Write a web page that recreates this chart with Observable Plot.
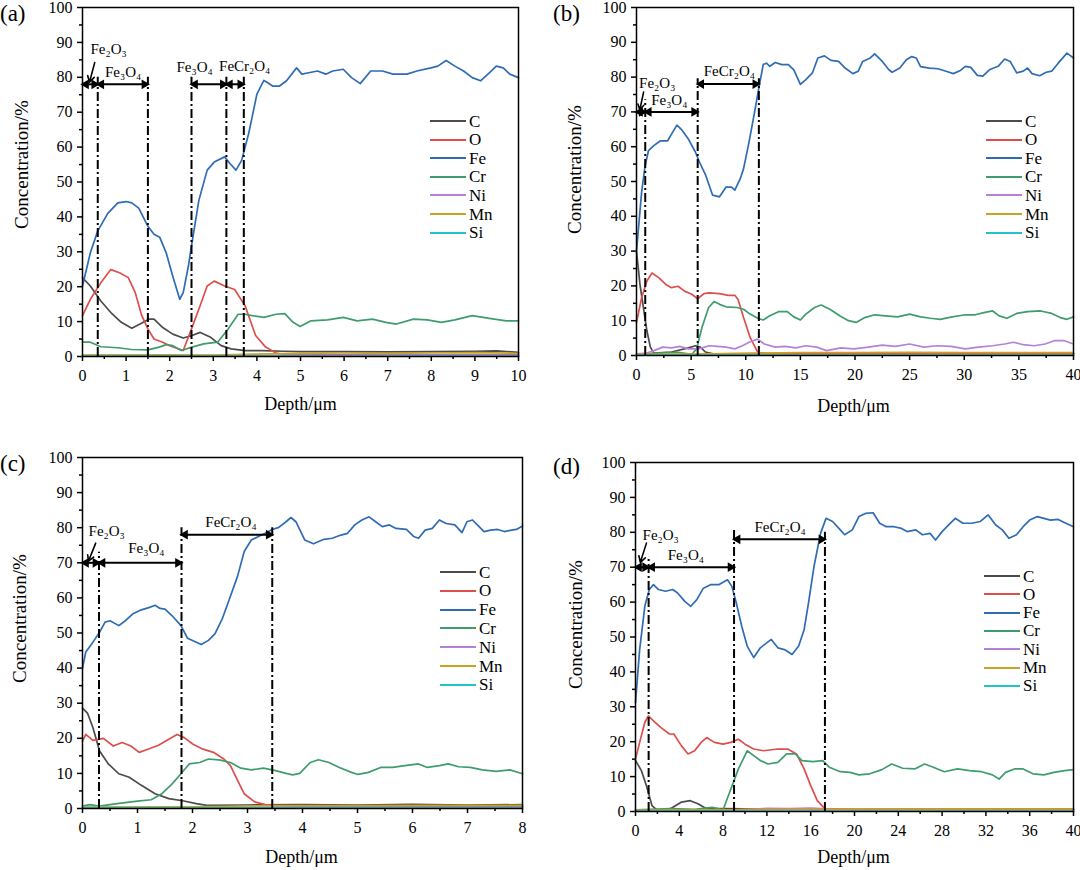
<!DOCTYPE html>
<html><head><meta charset="utf-8">
<script src="https://cdn.jsdelivr.net/npm/d3@7"></script>
<script src="https://cdn.jsdelivr.net/npm/@observablehq/plot@0.6"></script>
<style>
body{margin:0;background:#fff;font-family:"Liberation Serif","Times New Roman",serif;color:#000}
#page{position:relative;width:1080px;height:870px;overflow:hidden}
.panel{position:absolute;width:540px;height:435px}
.ov{position:absolute;white-space:nowrap;line-height:1}
.leg{position:absolute;font-size:17px;line-height:1}
.leg div{position:absolute;display:flex;align-items:center;height:18px}
.leg svg{display:block;margin-right:3px}
</style></head>
<body><div id="page"></div>
<script>
// ---------- shared ----------
const elements = ["C","O","Fe","Cr","Ni","Mn","Si"];
const colors = ["#4b4b4b","#dc4f4c","#2f6cb4","#3f9c6d","#b680d6","#c9a127","#22c3c9"];
const yTicks = [0,10,20,30,40,50,60,70,80,90,100];
const yMinor = [5,15,25,35,45,55,65,75,85,95];

// ---------- panel (a) ----------
const aXTicks = [0,1,2,3,4,5,6,7,8,9,10];
const aXMinor = [0.5,1.5,2.5,3.5,4.5,5.5,6.5,7.5,8.5,9.5];
const aC = [[0,22.6],[0.18,20.2],[0.42,15.9],[0.65,12.6],[0.89,9.8],[1.13,8.1],[1.32,9.3],[1.52,10.7],[1.64,10.7],[1.84,8.3],[2.07,6.4],[2.31,5.3],[2.51,6.0],[2.7,6.9],[2.94,5.5],[3.18,3.1],[3.41,2.2],[3.73,1.7],[4.12,1.7],[4.6,1.5],[5,1.4],[6,1.4],[7,1.3],[8,1.4],[9,1.5],[9.5,1.6],[10,1.2]];
const aO = [[0,11.7],[0.18,16.4],[0.42,21.1],[0.65,24.9],[0.85,24.0],[1.05,22.6],[1.21,18.3],[1.36,11.7],[1.5,7.9],[1.64,5.0],[1.84,4.1],[2.0,3.1],[2.19,2.2],[2.31,1.7],[2.47,6.9],[2.67,13.6],[2.86,20.2],[3.02,21.6],[3.26,20.2],[3.49,19.2],[3.73,14.5],[3.97,6.0],[4.2,2.7],[4.44,1.0],[4.68,0.5],[6,0.5],[8,0.5],[10,0.5]];
const aFe = [[0,20.2],[0.18,29.7],[0.35,36],[0.58,41],[0.81,44],[1.0,44.4],[1.13,44],[1.29,42.5],[1.5,37.3],[1.64,35],[1.77,34.2],[1.92,29.7],[2.07,23],[2.23,16.4],[2.31,18.3],[2.43,26],[2.51,32.5],[2.67,44.8],[2.86,53.4],[3.02,55.7],[3.26,57.2],[3.38,55.3],[3.52,53.4],[3.65,56.2],[3.81,63.8],[4.0,75.2],[4.16,79.1],[4.24,78.5],[4.36,77.5],[4.52,77.5],[4.68,79],[4.91,82.7],[5.03,80.9],[5.19,81.3],[5.39,81.8],[5.58,80.9],[5.74,81.8],[5.98,82.3],[6.17,79.9],[6.37,78.2],[6.61,81.8],[6.88,81.8],[7.12,80.9],[7.44,80.9],[7.67,81.8],[7.99,82.7],[8.15,83.2],[8.34,84.8],[8.54,83.2],[8.74,81.8],[8.94,79.9],[9.13,79],[9.33,81.3],[9.49,83.2],[9.65,82.7],[9.8,80.9],[10,79.9]];
const aCr = [[0,4.1],[0.18,4.1],[0.42,2.8],[0.81,2.5],[1.13,2.0],[1.5,1.9],[1.76,2.7],[1.92,3.4],[2.07,3.1],[2.27,1.7],[2.51,2.7],[2.78,3.6],[3.1,4.1],[3.34,7.9],[3.57,12.1],[3.73,12.1],[3.89,11.7],[4.16,11.2],[4.44,12.1],[4.64,12.3],[4.83,9.8],[4.99,8.6],[5.23,10.2],[5.62,10.5],[5.98,11.2],[6.3,10.2],[6.65,10.7],[6.96,9.8],[7.2,9.3],[7.59,10.7],[7.91,10.5],[8.23,9.8],[8.54,10.5],[8.94,11.7],[9.33,10.9],[9.72,10.2],[10,10.2]];
const aNi = [[0,0.3],[2,0.2],[4,0.3],[6,0.3],[8,0.4],[10,0.3]];
const aMn = [[0,0.4],[2,0.5],[3,0.4],[4,0.7],[5,0.9],[6,1.0],[7,0.9],[8,1.0],[9,1.1],[10,0.9]];
const aSi = [[0,0.1],[3,0.1],[6,0.1],[10,0.1]];
const aBounds = [[0.35,80],[1.5,80],[2.5,80],[3.3,80],[3.7,80]];
const aArrows = [[0,0.35,78],[0.35,1.5,78],[2.5,3.3,78],[3.3,3.7,78]];
const aLabels = [[0.6,88,"Fe₂O₃"],[0.93,81.6,"Fe₃O₄"],[2.57,83,"Fe₃O₄"],[3.72,83.2,"FeCr₂O₄"]];
const aPointer = [[0.28,84.2,0.16,78.6]];

// ---------- panel (b) ----------
const bXTicks = [0,5,10,15,20,25,30,35,40];
const bXMinor = [2.5,7.5,12.5,17.5,22.5,27.5,32.5,37.5];
const bC = [[0,29.9],[0.32,20.4],[0.63,13.8],[0.95,7.1],[1.27,2.4],[1.58,0.7],[3.2,1.0],[4.75,2.2],[5.4,2.8],[5.85,2.4],[6.3,1.0],[7,0.5],[15,0.6],[25,0.7],[40,0.6]];
const bO = [[0,9.5],[0.47,16.6],[0.95,21.4],[1.42,23.7],[2.06,22.3],[2.7,20.4],[3.2,19.5],[3.8,19.9],[4.4,18.5],[5.06,17.6],[5.6,16.3],[6.17,17.8],[6.65,18],[7.6,17.8],[8.4,17.3],[9.0,17.3],[9.3,16.1],[9.8,10.9],[10.4,5.2],[11.1,0.9],[12,0.5],[20,0.5],[30,0.5],[40,0.5]];
const bFe = [[0,29.9],[0.47,47],[0.79,54.6],[1.1,58.9],[1.58,60.3],[2.2,61.7],[2.85,61.7],[3.3,64.1],[3.7,66.2],[4.1,65],[4.75,62.2],[5.4,58.4],[5.76,55.6],[6.33,51.8],[6.96,46.1],[7.6,45.6],[8.2,48.4],[8.7,48.4],[9.0,47.5],[9.5,50.8],[9.8,53.7],[10.3,61.3],[10.8,69.8],[11.2,76.9],[11.6,83.6],[11.9,84],[12.2,83.1],[12.7,84.2],[13.3,83.6],[13.9,83.6],[14.4,82.1],[15.0,77.9],[15.5,79.3],[16.1,81.2],[16.6,85.5],[17.2,86.1],[17.8,84.8],[18.5,84.5],[19.1,82.6],[19.8,81],[20.3,81.7],[20.7,84.5],[21.4,85.5],[21.8,86.7],[22.5,84.5],[23.1,82.1],[23.4,81.4],[24.1,82.6],[24.7,85],[25.2,85.9],[25.6,85.5],[26.0,83],[26.8,82.6],[27.6,82.4],[28.4,81.6],[29.0,81],[29.6,81.8],[30.1,83.1],[30.6,82.8],[31.2,80.5],[31.7,80.3],[32.3,82.1],[33.1,83.1],[33.7,85.2],[34.2,84.5],[34.8,81.2],[35.4,81.7],[35.8,82.6],[36.2,81],[36.9,80.4],[37.5,81.4],[38,81.7],[38.6,84],[39.4,86.9],[40,85.5]];
const bCr = [[0,0.3],[1.9,0.7],[3.8,0.9],[5.06,0.3],[5.5,1.9],[6,8.1],[6.6,13.8],[7.1,15.5],[7.6,14.7],[8.2,14],[9.2,13.8],[9.8,13.3],[10.4,11.9],[11.1,10.7],[11.6,10.2],[12.2,11.4],[13,12.6],[13.8,12.6],[14.4,11.1],[15,10.2],[15.5,11.9],[16.3,13.8],[16.9,14.5],[17.7,13.3],[18.6,11.4],[19.4,10],[20.1,9.5],[20.9,10.9],[21.8,11.7],[22.8,11.4],[23.9,11.1],[25,11.9],[26,11.1],[26.9,10.7],[27.8,10.4],[28.9,11.1],[30.1,11.7],[31,11.7],[31.8,12.3],[32.6,12.8],[33.2,11.4],[33.9,10.7],[34.8,12.1],[35.8,12.6],[37,12.8],[38,12.1],[38.8,10.9],[39.4,10.4],[40,11.1]];
const bNi = [[0,0.5],[0.95,0.7],[1.6,1.4],[2.4,2.4],[3.2,2.2],[4,2.6],[4.75,1.9],[5.7,1.9],[6.65,2.8],[7.4,2.6],[8.2,2.4],[9,1.9],[9.7,2.8],[10.3,3.8],[11.1,4.7],[11.7,3.3],[12.7,2.4],[13.6,2.6],[14.6,2.2],[15.5,2.8],[16.5,2.4],[17.4,1.4],[18.7,2.2],[19.9,1.9],[21.2,2.4],[22.5,3.0],[23.7,2.6],[25,3.3],[26.3,2.4],[27.5,2.8],[28.8,2.6],[30.1,1.9],[31.3,2.4],[32.6,2.8],[33.7,3.3],[34.5,3.8],[35.4,3.1],[36.4,2.8],[37.4,3.3],[38.3,4.3],[39.1,4.3],[40,3.3]];
const bMn = [[0,0.3],[5,0.4],[10,0.6],[15,0.8],[20,0.8],[25,0.9],[30,0.8],[35,0.8],[40,0.8]];
const bSi = [[0,0.1],[10,0.1],[20,0.1],[30,0.1],[40,0.1]];
const bBounds = [[0.8,73.5],[5.6,79.5],[11.2,79.5]];
const bArrows = [[0,0.8,70],[0.8,5.6,70],[5.6,11.2,78]];
const bLabels = [[1.9,78.3,"Fe₂O₃"],[3.0,73.3,"Fe₃O₄"],[8.5,81.7,"FeCr₂O₄"]];
const bPointer = [[0.65,75.7,0.3,70.6]];

// ---------- panel (c) ----------
const cXTicks = [0,1,2,3,4,5,6,7,8];
const cXMinor = [0.5,1.5,2.5,3.5,4.5,5.5,6.5,7.5];
const cC = [[0,28.6],[0.09,27.2],[0.19,23],[0.31,16.4],[0.47,12.7],[0.66,9.9],[0.85,8.9],[1.07,6.6],[1.32,4.2],[1.57,2.8],[1.82,2.2],[2.07,1.4],[2.26,0.9],[3,1.0],[4,1.1],[5,1.0],[6,1.2],[7,1.0],[8,1.1]];
const cO = [[0,19.2],[0.06,21.1],[0.19,19.4],[0.38,20],[0.56,17.8],[0.72,18.8],[0.88,17.8],[1.03,16],[1.19,16.9],[1.38,18],[1.57,19.7],[1.72,21.1],[1.85,20.2],[2.01,18.3],[2.19,16.9],[2.38,16],[2.57,14.1],[2.69,12.2],[2.82,8],[2.94,4.2],[3.13,1.9],[3.32,1.1],[3.51,0.8],[4,0.6],[6,0.6],[8,0.6]];
const cFe = [[0,39.9],[0.06,44.6],[0.19,47.4],[0.31,50.2],[0.41,53.1],[0.5,53.5],[0.66,52.1],[0.78,53.5],[0.91,55.4],[1.07,56.6],[1.22,57.3],[1.32,57.9],[1.41,57],[1.5,56.8],[1.63,54.9],[1.79,52.1],[1.91,48.5],[2.04,47.6],[2.16,46.7],[2.29,47.9],[2.41,49.8],[2.54,54],[2.66,59.2],[2.82,66.2],[2.94,73.2],[3.07,76.5],[3.2,77.5],[3.32,78.4],[3.45,79.5],[3.57,80.1],[3.7,81.7],[3.79,82.9],[3.88,81.7],[4.04,76.5],[4.2,75.4],[4.39,76.7],[4.54,77],[4.7,77.9],[4.82,78.4],[4.95,80.8],[5.08,82.2],[5.21,83.1],[5.33,81.7],[5.45,80.3],[5.58,80.8],[5.7,79.8],[5.89,79.5],[6.02,77.5],[6.11,77],[6.23,79.3],[6.36,79.8],[6.49,82.2],[6.61,81.2],[6.77,80.8],[6.9,78.6],[6.99,81.7],[7.09,82.2],[7.21,80.3],[7.3,78.9],[7.42,79.3],[7.55,79.5],[7.67,78.9],[7.8,79.3],[7.89,79.5],[8,80.5]];
const cCr = [[0,0.7],[0.13,1.1],[0.31,0.7],[0.63,1.4],[1.0,2.1],[1.25,2.5],[1.44,4.2],[1.63,7],[1.79,9.9],[1.94,12.7],[2.13,13.1],[2.29,14.1],[2.51,13.8],[2.69,13.1],[2.88,11.5],[3.07,11],[3.29,11.5],[3.51,10.8],[3.7,10],[3.82,9.6],[3.95,10],[4.14,13.1],[4.29,13.9],[4.48,13.1],[4.67,11.7],[4.89,10.3],[5.01,9.7],[5.2,10.3],[5.42,11.7],[5.64,11.7],[5.86,12.2],[6.11,12.7],[6.27,11.7],[6.49,12.2],[6.65,12.7],[6.84,11.9],[7.05,11.7],[7.27,11],[7.52,10.6],[7.77,11],[8,9.9]];
const cNi = [[0,0.3],[2,0.3],[4,0.4],[6,0.3],[8,0.3]];
const cMn = [[0,0.4],[2,0.5],[3.5,0.8],[5,0.8],[6.5,0.9],[8,0.9]];
const cSi = [[0,0.2],[4,0.2],[8,0.2]];
const cBounds = [[0.3,73],[1.8,80],[3.45,80]];
const cArrows = [[0,0.3,70],[0.3,1.8,70],[1.8,3.45,78]];
const cLabels = [[0.44,78.9,"Fe₂O₃"],[1.16,74.2,"Fe₃O₄"],[2.7,81.7,"FeCr₂O₄"]];
const cPointer = [[0.24,75.6,0.11,70.5]];

// ---------- panel (d) ----------
const dXTicks = [0,4,8,12,16,20,24,28,32,36,40];
const dXMinor = [2,6,10,14,18,22,26,30,34,38];
const dC = [[0,14.6],[0.54,11.7],[1.0,7.4],[1.5,1.7],[2.0,0.3],[3.2,0.8],[4.2,2.7],[5.0,3.1],[5.7,2.2],[6.5,0.8],[8,0.8],[12,0.7],[20,0.6],[30,0.7],[40,0.7]];
const dO = [[0,15],[0.38,19.8],[0.85,25.5],[1.17,27.4],[1.64,26],[2.3,24.1],[3.1,22.2],[3.5,22.2],[4.2,18.8],[4.8,16.5],[5.4,17.4],[6,19.8],[6.5,21.2],[7.2,19.8],[8,19.3],[8.7,19.8],[9.4,20.7],[10,19.3],[10.8,17.9],[11.7,17.4],[13,17.9],[13.9,17.9],[14.7,16.5],[15.4,12.2],[16,7.4],[16.6,3.1],[17.3,0.8],[20,0.5],[30,0.5],[40,0.5]];
const dFe = [[0,31.2],[0.38,46.4],[0.85,58.8],[1.26,63.6],[1.64,65],[2.1,63.6],[2.74,63.1],[3.4,63.6],[3.85,62.6],[4.5,60.2],[5.05,58.8],[5.6,60.7],[6.2,64],[6.85,65],[7.6,65],[8.4,66.4],[8.8,64.5],[9.2,59.8],[9.7,53.1],[10.2,47.4],[10.8,44.1],[11.4,46.9],[12.4,49.3],[13,46.9],[13.6,46.4],[14.3,45],[14.9,47.4],[15.4,52.1],[15.8,59.8],[16.3,70.2],[16.9,79.7],[17.4,84],[18,83.1],[18.7,80.7],[19.1,79.3],[19.8,80.7],[20.4,84.5],[21,85.4],[21.7,85.6],[22.3,82.6],[22.9,81.6],[23.6,81.6],[24.2,81.2],[24.8,80.2],[25.6,80.7],[26.2,79.3],[26.9,79.7],[27.4,77.8],[28,80.2],[28.6,82.1],[29.2,84],[29.9,82.6],[30.7,82.6],[31.5,83.1],[32.2,85],[32.9,82.1],[33.5,80.7],[34.1,78.3],[34.8,79.3],[35.4,81.6],[36,83.5],[36.7,84.5],[37.3,84],[37.9,83.5],[38.6,83.7],[39.3,82.6],[40,81.6]];
const dCr = [[0,0.5],[3.2,0.8],[5.4,0.6],[7,1.2],[8,0.5],[8.6,5.5],[9.4,12.2],[10.2,17.4],[10.8,16],[11.4,14.6],[12.1,13.6],[13,14.1],[13.8,16.5],[14.6,16.5],[15.2,14.6],[16.2,14.3],[17.1,14.6],[17.7,12.7],[18.7,11.4],[19.6,11.2],[20.4,10.5],[21.4,10.8],[22.5,12],[23.4,13.6],[24.4,12.4],[25.5,12.2],[26.4,13.6],[27.2,12.7],[28.2,11.4],[29.4,12.2],[30.5,11.7],[31.6,11.4],[32.6,10.5],[33.2,9.3],[33.8,11.2],[34.6,12.2],[35.4,12.2],[36.3,10.8],[37.3,10.5],[38.2,11.2],[39.2,11.7],[40,12]];
const dNi = [[0,0.3],[8,0.3],[10,0.6],[12,0.9],[14,0.8],[16,1.0],[18,0.7],[24,0.6],[30,0.6],[40,0.6]];
const dMn = [[0,0.3],[9,0.5],[18,0.6],[28,0.7],[40,0.7]];
const dSi = [[0,0.1],[10,0.1],[20,0.1],[30,0.1],[40,0.1]];
const dBounds = [[1.2,73],[9.0,80.5],[17.3,80]];
const dArrows = [[0,1.2,70],[1.2,9.0,70],[9.0,17.3,78]];
const dLabels = [[2.3,79.3,"Fe₂O₃"],[4.6,73.3,"Fe₃O₄"],[13.2,81.6,"FeCr₂O₄"]];
const dPointer = [[1.0,76.9,0.44,71.4]];

// ---------- layout (page pixels) ----------
const panels = [
  {tag:"(a)", left:0, top:0, mL:82, mR:22, mT:7, mB:79, xMax:10, xT:aXTicks, xM:aXMinor,
   s:[aC,aO,aFe,aCr,aNi,aMn,aSi], bounds:aBounds, arrows:aArrows, labels:aLabels, pointer:aPointer,
   tagPos:[0,2], yLab:[21,164], xLab:[300,404], leg:[430,121,18.6]},
  {tag:"(b)", left:540, top:0, mL:96, mR:7, mT:7, mB:80, xMax:40, xT:bXTicks, xM:bXMinor,
   s:[bC,bO,bFe,bCr,bNi,bMn,bSi], bounds:bBounds, arrows:bArrows, labels:bLabels, pointer:bPointer,
   tagPos:[553,2], yLab:[574,169], xLab:[853,406], leg:[986,121,18.6]},
  {tag:"(c)", left:0, top:435, mL:82, mR:18, mT:22, mB:62, xMax:8, xT:cXTicks, xM:cXMinor,
   s:[cC,cO,cFe,cCr,cNi,cMn,cSi], bounds:cBounds, arrows:cArrows, labels:cLabels, pointer:cPointer,
   tagPos:[0,452], yLab:[19,618], xLab:[301,857], leg:[440,572,18.8]},
  {tag:"(d)", left:540, top:435, mL:95, mR:7, mT:27, mB:59, xMax:40, xT:dXTicks, xM:dXMinor,
   s:[dC,dO,dFe,dCr,dNi,dMn,dSi], bounds:dBounds, arrows:dArrows, labels:dLabels, pointer:dPointer,
   tagPos:[553,455], yLab:[575,624], xLab:[853,857], leg:[984,576,18.3]}
];

const page = document.getElementById("page");
const W = 540, H = 435;

for (const p of panels) {
  const rows = p.s.flatMap((pts, i) => pts.map(([x, y]) => ({el: elements[i], x, y})));
  const bounds = p.bounds.map(([x, top]) => ({x, top}));
  const arrows = p.arrows.map(([x1, x2, y]) => ({x1, x2, y}));
  const labels = p.labels.map(([x, y, t]) => ({x, y, t}));
  const pointer = p.pointer.map(([x1, y1, x2, y2]) => ({x1, y1, x2, y2}));
  const frameL = p.left + p.mL, frameR = p.left + W - p.mR;
  const frameT = p.top + p.mT, frameB = p.top + H - p.mB;
  const cx = (frameL + frameR) / 2, cy = (frameT + frameB) / 2;

  const chart = Plot.plot({
    width: W, height: H,
    marginLeft: p.mL, marginRight: p.mR, marginTop: p.mT, marginBottom: p.mB,
    x: {domain: [0, p.xMax]},
    y: {domain: [0, 100]},
    color: {domain: elements, range: colors},
    style: {fontFamily: "'Liberation Serif','Times New Roman',serif", fontSize: "16px", color: "#000", background: "transparent", overflow: "visible"},
    marks: [
      Plot.axisY(yTicks, {tickSize: 5, tickPadding: 5, fontSize: 16, label: null, strokeWidth: 1.5}),
      Plot.axisY(yMinor, {tickSize: 3, tickFormat: () => "", label: null, strokeWidth: 1.5}),
      Plot.axisX(p.xT, {tickSize: 5, tickPadding: 8, fontSize: 16, label: null, strokeWidth: 1.5}),
      Plot.axisX(p.xM, {tickSize: 3, tickFormat: () => "", label: null, strokeWidth: 1.5}),
      Plot.line(rows, {x: "x", y: "y", z: "el", stroke: "el", strokeWidth: 1.7}),
      Plot.ruleX(bounds, {x: "x", y1: 0, y2: "top", stroke: "#000", strokeWidth: 2, strokeDasharray: "9,3,2,3"}),
      Plot.link(arrows, {x1: "x1", x2: "x2", y1: "y", y2: "y", stroke: "#000", strokeWidth: 2}),
      Plot.dot(arrows, {x: "x1", y: "y", symbol: "triangle", r: 3.6, rotate: -90, fill: "#000", stroke: null, dx: 3.5}),
      Plot.dot(arrows, {x: "x2", y: "y", symbol: "triangle", r: 3.6, rotate: 90, fill: "#000", stroke: null, dx: -3.5}),
      Plot.arrow(pointer, {x1: "x1", y1: "y1", x2: "x2", y2: "y2", stroke: "#000", strokeWidth: 1.6, headLength: 7}),
      Plot.text(labels, {x: "x", y: "y", text: "t", fontSize: 15, fill: "#000"}),
      Plot.text(["Concentration/%"], {frameAnchor: "left", textAnchor: "middle", lineAnchor: "middle", rotate: -90, dx: p.yLab[0] - frameL, dy: p.yLab[1] - cy, fontSize: 19, fill: "#000"}),
      Plot.text(["Depth/μm"], {frameAnchor: "bottom", textAnchor: "middle", lineAnchor: "middle", dx: p.xLab[0] - cx, dy: p.xLab[1] - frameB, fontSize: 18, fill: "#000"}),
      Plot.frame({stroke: "#000", strokeWidth: 1.5})
    ]
  });
  const holder = document.createElement("div");
  holder.className = "panel";
  holder.style.left = p.left + "px";
  holder.style.top = p.top + "px";
  holder.appendChild(chart);
  page.appendChild(holder);

  const tag = document.createElement("div");
  tag.className = "ov";
  tag.style.left = p.tagPos[0] + "px";
  tag.style.top = p.tagPos[1] + "px";
  tag.style.fontSize = "23px";
  tag.textContent = p.tag;
  page.appendChild(tag);

  const leg = document.createElement("div");
  leg.className = "leg";
  leg.style.left = p.leg[0] + "px";
  leg.style.top = "0px";
  elements.forEach((el, i) => {
    const row = document.createElement("div");
    row.style.left = "0px";
    row.style.top = (p.leg[1] + i * p.leg[2] - 9) + "px";
    row.innerHTML = `<svg width="36" height="4"><line x1="0" y1="2" x2="36" y2="2" stroke="${colors[i]}" stroke-width="2"/></svg><span>${el}</span>`;
    leg.appendChild(row);
  });
  page.appendChild(leg);
}
</script>
</body></html>
